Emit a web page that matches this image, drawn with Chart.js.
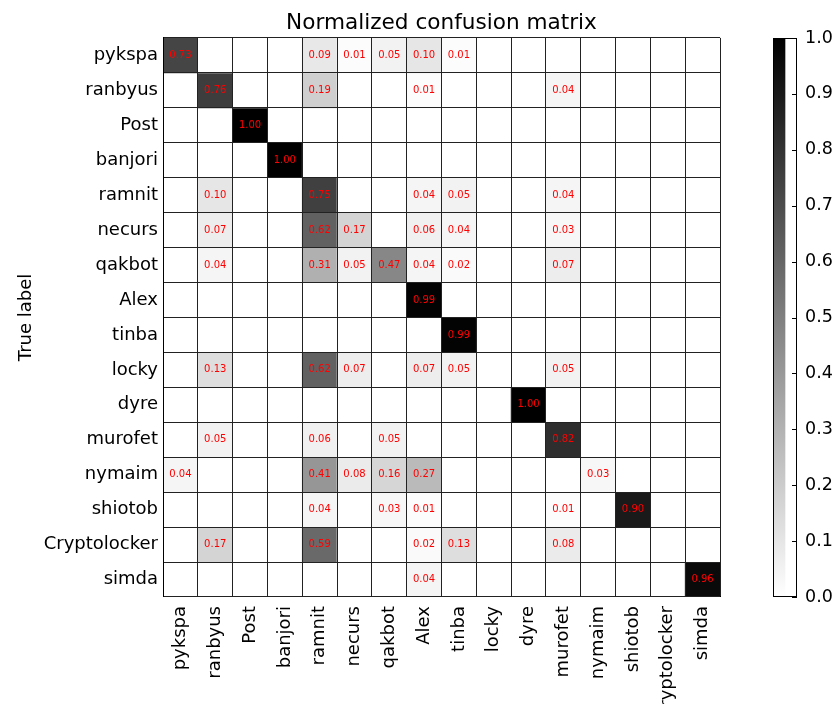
<!DOCTYPE html>
<html><head><meta charset="utf-8">
<script src="https://cdn.jsdelivr.net/npm/chart.js@4/dist/chart.umd.min.js"></script>
<style>
html,body{margin:0;padding:0;background:#fff;}
#wrap{position:relative;width:834px;height:704px;overflow:hidden;background:#fff}
canvas{position:absolute;top:0}
</style>
</head><body>
<div id="wrap">
<canvas id="main" width="834" height="704" style="left:0"></canvas>
<canvas id="cbar" width="74" height="704" style="left:760px"></canvas>
</div>
<script>
// ---- data ----
const trueLabels = ['pykspa','ranbyus','Post','banjori','ramnit','necurs','qakbot','Alex','tinba','locky','dyre','murofet','nymaim','shiotob','Cryptolocker','simda'];
const predLabels = ['pykspa','ranbyus','Post','banjori','ramnit','necurs','qakbot','Alex','tinba','locky','dyre','murofet','nymaim','shiotob','Cryptolocker','simda'];
const rowPykspa       = [0.73,0,0,0,0.09,0.01,0.05,0.10,0.01,0,0,0,0,0,0,0];
const rowRanbyus      = [0,0.76,0,0,0.19,0,0,0.01,0,0,0,0.04,0,0,0,0];
const rowPost         = [0,0,1.00,0,0,0,0,0,0,0,0,0,0,0,0,0];
const rowBanjori      = [0,0,0,1.00,0,0,0,0,0,0,0,0,0,0,0,0];
const rowRamnit       = [0,0.10,0,0,0.75,0,0,0.04,0.05,0,0,0.04,0,0,0,0];
const rowNecurs       = [0,0.07,0,0,0.62,0.17,0,0.06,0.04,0,0,0.03,0,0,0,0];
const rowQakbot       = [0,0.04,0,0,0.31,0.05,0.47,0.04,0.02,0,0,0.07,0,0,0,0];
const rowAlex         = [0,0,0,0,0,0,0,0.99,0,0,0,0,0,0,0,0];
const rowTinba        = [0,0,0,0,0,0,0,0,0.99,0,0,0,0,0,0,0];
const rowLocky        = [0,0.13,0,0,0.62,0.07,0,0.07,0.05,0,0,0.05,0,0,0,0];
const rowDyre         = [0,0,0,0,0,0,0,0,0,0,1.00,0,0,0,0,0];
const rowMurofet      = [0,0.05,0,0,0.06,0,0.05,0,0,0,0,0.82,0,0,0,0];
const rowNymaim       = [0.04,0,0,0,0.41,0.08,0.16,0.27,0,0,0,0,0.03,0,0,0];
const rowShiotob      = [0,0,0,0,0.04,0,0.03,0.01,0,0,0,0.01,0,0.90,0,0];
const rowCryptolocker = [0,0.17,0,0,0.59,0,0,0.02,0.13,0,0,0.08,0,0,0,0];
const rowSimda        = [0,0,0,0,0,0,0,0.04,0,0,0,0,0,0,0,0.96];
const matrixRows = [rowPykspa,rowRanbyus,rowPost,rowBanjori,rowRamnit,rowNecurs,rowQakbot,rowAlex,rowTinba,rowLocky,rowDyre,rowMurofet,rowNymaim,rowShiotob,rowCryptolocker,rowSimda];
const colorbarTicks = [0,0.1,0.2,0.3,0.4,0.5,0.6,0.7,0.8,0.9,1.0];

// ---- styling ----
const FONT = "'DejaVu Sans', sans-serif";
const TICK_SIZE = 18;
const greys = ['#ffffff','#000000'];
function hex2rgb(h){return [parseInt(h.substr(1,2),16),parseInt(h.substr(3,2),16),parseInt(h.substr(5,2),16)];}
function greyColor(v){
  v = Math.max(0, Math.min(1, v));
  const p = v*(greys.length-1), i = Math.min(Math.floor(p), greys.length-2), f = p-i;
  const a = hex2rgb(greys[i]), b = hex2rgb(greys[i+1]);
  const c = a.map((x,k)=>Math.round(x+(b[k]-x)*f));
  return `rgb(${c[0]},${c[1]},${c[2]})`;
}

const datasets = matrixRows.map((row, r) => ({
  label: trueLabels[r],
  data: row.map(() => [r, r+1]),
  backgroundColor: row.map(v => greyColor(v)),
  borderWidth: 0,
  yAxisID: 'yv',
  xAxisID: 'x',
  grouped: false,
  barPercentage: 1.0,
  categoryPercentage: 1.0
}));

const cellText = {
  id: 'cellText',
  afterDraw(chart){
    const ctx = chart.ctx;
    ctx.save();
    ctx.font = "10px " + FONT;
    ctx.fillStyle = '#ff0000';
    ctx.textAlign = 'center';
    ctx.textBaseline = 'middle';
    matrixRows.forEach((row, r) => {
      const meta = chart.getDatasetMeta(r);
      meta.data.forEach((bar, c) => {
        const v = row[c];
        if (v > 0) {
          const p = bar.getProps(['x','y','base'], true);
          ctx.fillText(v.toFixed(2), p.x, (p.y + p.base)/2);
        }
      });
    });
    ctx.restore();
  }
};

new Chart(document.getElementById('main'), {
  type: 'bar',
  data: { labels: predLabels, datasets },
  options: {
    responsive: false,
    animation: false,
    events: [],
    layout: { padding: { left: 0, right: 114, top: 0, bottom: 0 } },
    plugins: {
      legend: { display: false },
      tooltip: { enabled: false },
      title: {
        display: true, fullSize: false,
        text: 'Normalized confusion matrix',
        color: '#000',
        font: { family: FONT, size: 21.6, weight: 'normal' },
        padding: { top: 10, bottom: 2 }
      }
    },
    scales: {
      x: {
        type: 'category', position: 'bottom', z: 1,
        offset: true,
        grid: { offset: true, color: '#222', lineWidth: 1, drawTicks: false, z: 1 },
        border: { display: true, color: '#000', width: 1, z: 1 },
        ticks: { color: '#000', font: { family: FONT, size: TICK_SIZE }, autoSkip: false, minRotation: 90, maxRotation: 90, padding: 9 },
        afterFit(s){ s.height = 107; }
      },
      y: {
        type: 'category', position: 'left', z: 1,
        labels: trueLabels,
        offset: true,
        grid: { offset: true, color: '#222', lineWidth: 1, drawTicks: false, z: 1 },
        border: { display: true, color: '#000', width: 1, z: 1 },
        ticks: { color: '#000', font: { family: FONT, size: TICK_SIZE }, autoSkip: false, padding: 5 },
        title: { display: true, text: 'True label', color: '#000', font: { family: FONT, size: TICK_SIZE }, padding: { top: 16, bottom: 0 } },
        afterFit(s){ s.width = 163; }
      },
      yv: {
        axis: 'y', type: 'linear', display: false,
        min: 0, max: trueLabels.length, reverse: true
      }
    }
  },
  plugins: [cellText]
});

// ---- colorbar ----
const cbarDeco = {
  id: 'cbarDeco',
  afterDraw(chart){
    const ctx = chart.ctx, ca = chart.chartArea, ys = chart.scales.y;
    ctx.save();
    ctx.strokeStyle = '#000';
    ctx.lineWidth = 1;
    ctx.strokeRect(Math.round(ca.left)+0.5, Math.round(ca.top)+0.5, Math.round(ca.right-ca.left)-1, Math.round(ca.bottom-ca.top)-1);
    colorbarTicks.forEach(t => {
      const y = Math.round(ys.getPixelForValue(t)) + 0.5;
      ctx.beginPath();
      ctx.moveTo(ca.right - 5, y);
      ctx.lineTo(ca.right, y);
      ctx.stroke();
    });
    ctx.restore();
  }
};

new Chart(document.getElementById('cbar'), {
  type: 'bar',
  data: {
    labels: ['scale'],
    datasets: [{
      data: [[colorbarTicks[0], colorbarTicks[colorbarTicks.length-1]]],
      borderWidth: 0,
      barPercentage: 1.0,
      categoryPercentage: 1.0,
      backgroundColor(ctx){
        const ca = ctx.chart.chartArea;
        if (!ca) return '#888';
        const g = ctx.chart.ctx.createLinearGradient(0, ca.bottom, 0, ca.top);
        greys.forEach((c, i) => g.addColorStop(i/(greys.length-1), c));
        return g;
      }
    }]
  },
  options: {
    responsive: false,
    animation: false,
    events: [],
    layout: { padding: { left: 13, right: 0, top: 38, bottom: 107 } },
    plugins: { legend: { display: false }, tooltip: { enabled: false } },
    scales: {
      x: { display: false, offset: false },
      y: {
        position: 'right', min: 0, max: 1,
        afterBuildTicks(s){ s.ticks = colorbarTicks.map(v => ({ value: v })); },
        ticks: { color: '#000', font: { family: FONT, size: 17.5 }, padding: 8, callback: v => Number(v).toFixed(1) },
        grid: { display: false, drawTicks: false },
        border: { display: false },
        afterFit(s){ s.width = 37; }
      }
    }
  },
  plugins: [cbarDeco]
});
</script>
</body></html>
